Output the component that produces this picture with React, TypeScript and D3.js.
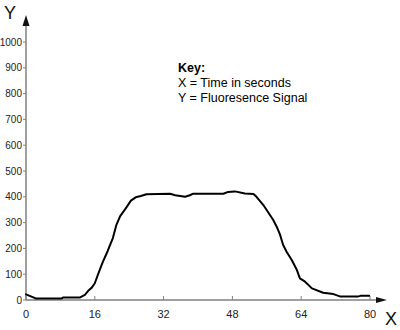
import React from "react";
import * as d3 from "d3";

const times = [0, 1.7, 2.3, 8.3, 8.7, 12.6, 13.7, 14.6, 15.3, 16, 16.7, 17.8, 19, 20.2, 21, 21.9, 23.2, 24.4, 25.5, 26.7, 28, 33.5, 34.7, 37, 38.1, 38.9, 45.9, 47, 48.6, 50.9, 52.9, 53.6, 55.2, 56.5, 57.5, 58.3, 59.1, 59.8, 60.6, 61.8, 63, 63.7, 64.9, 66.5, 69.1, 71.5, 73, 77.3, 77.8, 79.8];
const signal = [22, 10, 6, 6, 10, 10, 20, 38, 48, 65, 97, 145, 190, 240, 290, 325, 355, 385, 398, 403, 410, 412, 406, 400, 406, 412, 412, 419, 421, 413, 411, 400, 368, 335, 310, 284, 252, 213, 187, 155, 116, 84, 71, 45, 28, 23, 14, 14, 16, 16];
const xTicks = [0, 16, 32, 48, 64, 80];
const yTicks = [0, 100, 200, 300, 400, 500, 600, 700, 800, 900, 1000];
const keyLines = ["X = Time in seconds", "Y = Fluoresence Signal"];

const FONT = "'Liberation Sans', Arial, sans-serif";

export default function App() {
  const x = d3.scaleLinear().domain([0, 80]).range([26, 370]);
  const y = d3.scaleLinear().domain([0, 1000]).range([300, 42]);
  const data = times.map((t, i) => [t, signal[i]] as [number, number]);
  const line = d3.line<[number, number]>().x((d) => x(d[0])).y((d) => y(d[1]));
  const axisColor = "#808080";
  const x0 = x(0);
  const y0 = y(0);
  return (
    <svg width={400} height={330} style={{ position: "absolute", left: 0, top: 0, background: "#fff" }}>
      <rect width={400} height={330} fill="#fff" />
      <line x1={x0} y1={y0} x2={x0} y2={22} stroke={axisColor} strokeWidth={1.5} />
      <path d={`M${x0},15 L${x0 - 3.5},26 L${x0 + 3.5},26 Z`} fill="#111" />
      <line x1={x0} y1={y0} x2={380} y2={y0} stroke={axisColor} strokeWidth={1.5} />
      <path d={`M387,${y0} L376,${y0 - 3} L376,${y0 + 3} Z`} fill="#111" />
      {yTicks.map((t) => (
        <g key={"y" + t}>
          <line x1={x0 - 3} x2={x0} y1={y(t)} y2={y(t)} stroke={axisColor} strokeWidth={1} />
          <text x={x0 - 4} y={y(t)} dy="0.35em" textAnchor="end" fontSize={10} fontFamily={FONT} fill="#222">
            {t}
          </text>
        </g>
      ))}
      {xTicks.map((t) => (
        <g key={"x" + t}>
          <line x1={x(t)} x2={x(t)} y1={y0 - 4} y2={y0} stroke={axisColor} strokeWidth={1} />
          <text x={x(t)} y={318} textAnchor="middle" fontSize={11} fontFamily={FONT} fill="#222">
            {t}
          </text>
        </g>
      ))}
      <text x={4} y={19} fontSize={18} fontFamily={FONT} fill="#111">Y</text>
      <text x={385} y={325} fontSize={18} fontFamily={FONT} fill="#111">X</text>
      <path d={line(data) || ""} fill="none" stroke="#000" strokeWidth={2} strokeLinejoin="round" strokeLinecap="round" />
      <text x={178} y={72} fontSize={12.5} fontWeight="bold" fontFamily={FONT} fill="#000">Key:</text>
      {keyLines.map((k, i) => (
        <text key={k} x={178} y={87 + i * 15} fontSize={12.5} fontFamily={FONT} fill="#000">
          {k}
        </text>
      ))}
    </svg>
  );
}
